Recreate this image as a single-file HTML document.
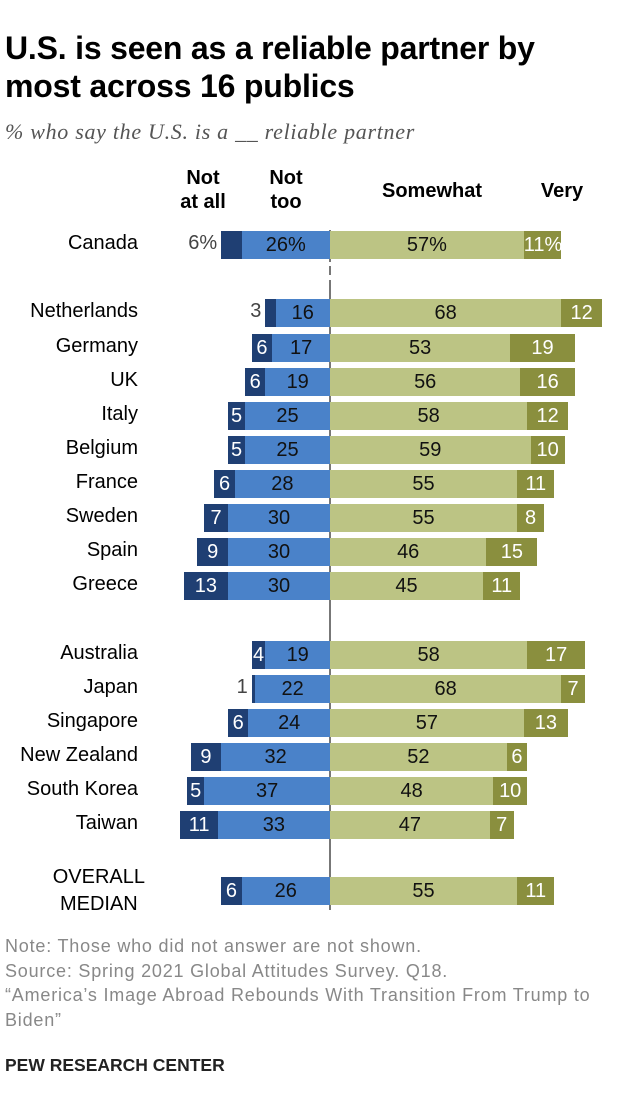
<!DOCTYPE html>
<html><head><meta charset="utf-8"><style>
body{margin:0;width:620px;height:1116px;background:#fff;font-family:"Liberation Sans",sans-serif;position:relative;overflow:hidden}
.t{position:absolute;left:5px;top:29px;font-size:32px;font-weight:bold;line-height:38px;color:#000;letter-spacing:-0.2px}
.s{position:absolute;left:5px;top:119px;font-size:22px;font-style:italic;font-family:"Liberation Serif",serif;color:#555;letter-spacing:0.7px}
.h{position:absolute;font-size:20px;font-weight:bold;text-align:center;line-height:24px}
.lab{position:absolute;right:482px;font-size:20px;text-align:right;white-space:nowrap}
.b{position:absolute;height:28px;font-size:20px;line-height:28px;text-align:center;overflow:visible;white-space:nowrap}
.n1{background:#1f3f73;color:#fff}.n2{background:#4a82c9;color:#111}.p1{background:#bcc484;color:#111}.p2{background:#8a8f3e;color:#fff}
.axis{position:absolute;left:329px;width:2px;background:#777}
.foot{position:absolute;left:5px;font-size:18px;color:#888;line-height:24.5px;letter-spacing:0.8px;white-space:nowrap}
</style></head><body>
<div class="t">U.S. is seen as a reliable partner by<br>most across 16 publics</div>
<div class="s">% who say the U.S. is a __ reliable partner</div>
<div class="h" style="left:170px;top:166px;width:66px">Not<br>at all</div>
<div class="h" style="left:253px;top:166px;width:66px">Not<br>too</div>
<div class="h" style="left:367px;top:179px;width:130px">Somewhat</div>
<div class="h" style="left:527px;top:179px;width:70px">Very</div>
<div class="axis" style="top:230px;height:32px"></div>
<div class="axis" style="top:266px;height:9px"></div>
<div class="axis" style="top:280px;height:630px"></div>
<div id="c"></div>
<div class="foot" style="top:934px">Note: Those who did not answer are not shown.<br>Source: Spring 2021 Global Attitudes Survey. Q18.<br>“America’s Image Abroad Rebounds With Transition From Trump to<br>Biden”</div>
<div style="position:absolute;left:5px;top:1055px;font-size:17.5px;font-weight:bold;color:#222">PEW RESEARCH CENTER</div>
<script>
var d=[["Canada",245,6,26,57,11,1],["Netherlands",313,3,16,68,12],["Germany",348,6,17,53,19],["UK",382,6,19,56,16],["Italy",416,5,25,58,12],["Belgium",450,5,25,59,10],["France",484,6,28,55,11],["Sweden",518,7,30,55,8],["Spain",552,9,30,46,15],["Greece",586,13,30,45,11],["Australia",655,4,19,58,17],["Japan",689,1,22,68,7],["Singapore",723,6,24,57,13],["New Zealand",757,9,32,52,6],["South Korea",791,5,37,48,10],["Taiwan",825,11,33,47,7],["OVERALL MEDIAN",891,6,26,55,11]];
var k=3.4,C=330,h="";
d.forEach(function(r){var y=r[1]-14,p=r[6]?"%":"";
 if(r[0]=="OVERALL MEDIAN")h+='<div class="lab" style="top:'+(r[1]-27)+'px;text-align:center;line-height:27px;right:475px">OVERALL<br>MEDIAN</div>';
 else h+='<div class="lab" style="top:'+(r[1]-13)+'px">'+r[0]+'</div>';
 var w2=r[3]*k,w1=r[2]*k,w3=r[4]*k,w4=r[5]*k;
 h+='<div class="b n2" style="left:'+(C-w2)+'px;top:'+y+'px;width:'+w2+'px">'+r[3]+p+'</div>';
 var small=r[2]<=3||r[6];
 h+='<div class="b n1" style="left:'+(C-w2-w1)+'px;top:'+y+'px;width:'+w1+'px">'+(small?'':r[2])+'</div>';
 if(small)h+='<div class="b" style="left:'+(C-w2-w1-42)+'px;top:'+(y-2)+'px;width:38px;text-align:right;color:#444">'+r[2]+p+'</div>';
 h+='<div class="b p1" style="left:'+C+'px;top:'+y+'px;width:'+w3+'px">'+r[4]+p+'</div>';
 h+='<div class="b p2" style="left:'+(C+w3)+'px;top:'+y+'px;width:'+w4+'px">'+r[5]+p+'</div>';
});
document.getElementById("c").innerHTML=h;
</script>
</body></html>
